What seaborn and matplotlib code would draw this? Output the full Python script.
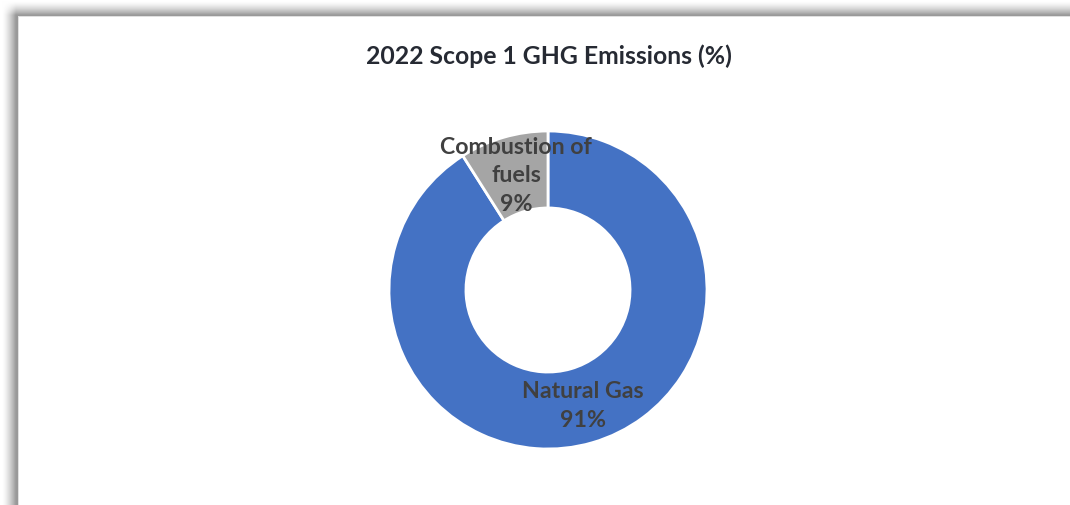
import numpy as np
import matplotlib
matplotlib.use('Agg')
import matplotlib.pyplot as plt
import seaborn as sns

# Data
categories = ['Natural Gas', 'Combustion of\nfuels']
shares = [91, 9]
colors = ['#4472C4', '#A5A5A5']
title = '2022 Scope 1 GHG Emissions (%)'

sns.set_theme(style='white')
plt.rcParams['font.family'] = ['Lato', 'DejaVu Sans']

W, H = 1070, 506
fig = plt.figure(figsize=(W / 100, H / 100), dpi=100)
fig.patch.set_facecolor('white')

# soft drop shadow along the top and left edges (screenshot frame)
bg = fig.add_axes([0, 0, 1, 1])
xx, yy = np.meshgrid(np.arange(W) + 0.5, np.arange(H) + 0.5)
def ramp(t):
    return np.clip(0.5 + t / 14.0, 0, 1) ** 1.5
dark = 0.40 * ramp(xx - 9) * ramp(yy - 9)
inside = (xx >= 19) & (yy >= 18)
img = 1 - dark
img[inside] = 1.0
border = ((np.abs(xx - 18.5) < 0.6) & (yy >= 17)) | ((np.abs(yy - 17.5) < 0.6) & (xx >= 18))
img[border] = 0.88
bg.imshow(np.dstack([img] * 3), extent=[0, W, H, 0], aspect='auto', interpolation='bilinear')
bg.set_axis_off()

# title
fig.text(549 / W, 1 - 56 / H, title, ha='center', va='center',
         fontsize=17.8, fontweight='bold', color='#262a33')

# donut
cx, cy, r = 548, 291, 159
ax = fig.add_axes([(cx - r) / W, (H - cy - r) / H, 2 * r / W, 2 * r / H])
wedges, _ = ax.pie(shares, colors=colors, startangle=90, counterclock=False,
                   radius=1.0,
                   wedgeprops=dict(width=0.484, edgecolor='white', linewidth=2))
ax.set_xlim(-1, 1)
ax.set_ylim(-1, 1)
ax.set_aspect('equal')
ax.set_axis_off()

for w, cat, val in zip(wedges, categories, shares):
    mid = np.deg2rad((w.theta1 + w.theta2) / 2)
    rr = 0.755
    ax.text(rr * np.cos(mid) + 0.01, rr * np.sin(mid), f'{cat}\n{val}%',
            ha='center', va='center', fontsize=16.7, fontweight='bold',
            color='#404040', linespacing=1.45)

fig.savefig('out.png', dpi=100)
